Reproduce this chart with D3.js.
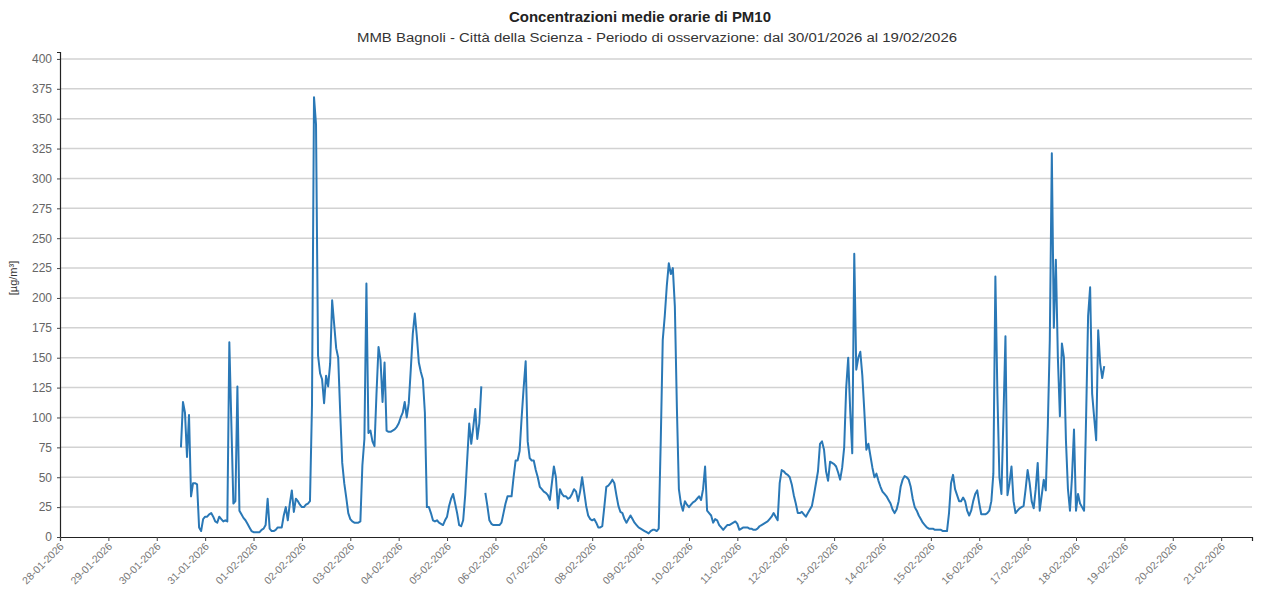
<!DOCTYPE html>
<html>
<head>
<meta charset="utf-8">
<script src="https://cdn.jsdelivr.net/npm/d3@7"></script>
<style>
  html, body { margin: 0; padding: 0; background: #fff; }
  svg { display: block; font-family: "Liberation Sans", Arial, sans-serif; }
</style>
</head>
<body>
<svg id="chart" width="1267" height="613"></svg>
<script>
// Hourly PM10 means, one array per day (00:00 .. 23:00), µg/m³
const pm10_30_01 = [null,null,null,null,null,null,null,null,null,null,null,null,75,113,104,67,102,34,45,45,44,8,5,15];
const pm10_31_01 = [17,17,19,20,17,13,12,17,15,13,14,13,163,95,28,30,126,22,19,16,14,11,8,5];
const pm10_01_02 = [4,4,4,4,6,7,10,32,7,5,5,6,8,8,8,18,25,14,28,39,21,32,30,27];
const pm10_02_02 = [25,25,27,28,30,110,368,345,152,137,132,112,135,126,145,198,178,158,150,104,62,45,33,20];
const pm10_03_02 = [15,13,12,12,12,13,60,82,212,87,89,80,76,120,159,148,113,146,89,88,88,89,90,92];
const pm10_04_02 = [95,100,104,113,100,112,140,170,187,168,146,138,132,104,25,25,20,14,13,14,12,11,10,14];
const pm10_05_02 = [17,26,32,36,28,20,10,9,14,35,65,95,78,92,107,82,95,126,null,37,26,14,11,10];
const pm10_06_02 = [10,10,10,12,20,28,34,34,34,50,64,64,72,100,125,147,80,66,64,64,56,50,42,40];
const pm10_07_02 = [38,37,35,31,45,59,50,24,40,36,34,34,32,33,36,40,38,30,38,50,38,26,18,15];
const pm10_08_02 = [14,15,12,8,8,9,25,42,43,45,48,45,35,26,21,20,15,12,15,18,15,12,10,8];
const pm10_09_02 = [7,6,5,4,3,5,6,6,5,7,80,165,185,210,229,220,225,193,109,40,28,22,30,27];
const pm10_10_02 = [25,27,29,30,32,34,31,40,59,22,20,18,12,15,14,10,8,6,8,10,10,11,12,13];
const pm10_11_02 = [11,6,7,8,8,8,7,7,6,6,7,9,10,11,12,13,15,17,20,17,14,45,56,55];
const pm10_12_02 = [53,52,50,44,35,28,20,20,21,19,17,20,23,26,35,45,55,78,80,73,55,47,63,62];
const pm10_13_02 = [61,59,54,48,58,75,125,150,105,70,237,140,150,155,135,105,73,78,68,58,50,53,47,42];
const pm10_14_02 = [38,36,34,31,28,23,20,23,30,42,48,51,50,48,42,32,25,22,18,15,12,10,8,7];
const pm10_15_02 = [7,7,6,6,6,6,5,5,5,20,45,52,40,35,30,30,33,30,22,18,22,30,36,39];
const pm10_16_02 = [28,19,19,19,20,22,30,53,218,120,50,36,100,168,35,45,59,30,20,22,24,25,26,40];
const pm10_17_02 = [56,45,30,24,40,62,22,35,48,39,92,165,321,175,232,150,101,162,150,81,40,22,50,90];
const pm10_18_02 = [22,36,28,25,22,100,185,209,120,100,81,173,145,133,143];

// Days in order, first day starts at 30-01-2026 00:00
const seriesDays = [pm10_30_01, pm10_31_01, pm10_01_02, pm10_02_02, pm10_03_02, pm10_04_02,
  pm10_05_02, pm10_06_02, pm10_07_02, pm10_08_02, pm10_09_02, pm10_10_02, pm10_11_02,
  pm10_12_02, pm10_13_02, pm10_14_02, pm10_15_02, pm10_16_02, pm10_17_02, pm10_18_02];

const xTickLabels = ["28-01-2026","29-01-2026","30-01-2026","31-01-2026","01-02-2026","02-02-2026",
  "03-02-2026","04-02-2026","05-02-2026","06-02-2026","07-02-2026","08-02-2026","09-02-2026",
  "10-02-2026","11-02-2026","12-02-2026","13-02-2026","14-02-2026","15-02-2026","16-02-2026",
  "17-02-2026","18-02-2026","19-02-2026","20-02-2026","21-02-2026"];
const yTicks = [0,25,50,75,100,125,150,175,200,225,250,275,300,325,350,375,400];

const titleText = "Concentrazioni medie orarie di PM10";
const subtitleText = "MMB Bagnoli - Città della Scienza - Periodo di osservazione: dal 30/01/2026 al 19/02/2026";
const yLabelText = "[µg/m³]";

// ---- build hourly records
const HOUR = 3600 * 1000;
const seriesStart = Date.UTC(2026, 0, 30);
const records = [];
seriesDays.forEach((day, di) => {
  day.forEach((v, hi) => {
    records.push({ t: new Date(seriesStart + (di * 24 + hi) * HOUR), v: v });
  });
});
const firstValid = records.findIndex(r => r.v != null);
const points = records.slice(firstValid);

const tickDates = xTickLabels.map(s => {
  const [dd, mm, yy] = s.split("-").map(Number);
  return new Date(Date.UTC(yy, mm - 1, dd));
});

// ---- layout
const plot = { left: 60, right: 1252, top: 52, bottom: 537 };
const svg = d3.select("#chart");
const FONT = "'Liberation Sans', Arial, sans-serif";

const x = d3.scaleUtc()
  .domain([tickDates[0], new Date(tickDates[0].getTime() + 591.3 * HOUR)])
  .range([plot.left, plot.right]);
const y = d3.scaleLinear()
  .domain([0, 405.8])
  .range([plot.bottom, plot.top]);

// gridlines
svg.append("g")
  .selectAll("line")
  .data(yTicks.filter(v => v > 0))
  .join("line")
  .attr("x1", plot.left).attr("x2", plot.right)
  .attr("y1", d => y(d)).attr("y2", d => y(d))
  .attr("stroke", "#d2d2d2")
  .attr("stroke-width", 1.5);

// series line
const line = d3.line()
  .defined(d => d.v != null)
  .x(d => x(d.t))
  .y(d => y(d.v));

svg.append("path")
  .datum(points)
  .attr("d", line)
  .attr("fill", "none")
  .attr("stroke", "#2a78b6")
  .attr("stroke-width", 2)
  .attr("stroke-linejoin", "round");

// y axis
const yAxis = svg.append("g")
  .attr("transform", `translate(${plot.left},0)`)
  .call(d3.axisLeft(y).tickValues(yTicks).tickSize(3).tickPadding(5));
yAxis.select(".domain").attr("stroke", "#222").attr("stroke-width", 1.2);
yAxis.selectAll(".tick line").attr("stroke", "#444");
yAxis.selectAll(".tick text")
  .attr("fill", "#666")
  .style("font-size", "12px")
  .style("font-family", FONT);

// x axis
const xAxis = svg.append("g")
  .attr("transform", `translate(0,${plot.bottom})`)
  .call(d3.axisBottom(x).tickValues(tickDates).tickSize(4).tickFormat((d, i) => xTickLabels[i]));
xAxis.select(".domain").attr("stroke", "#222").attr("stroke-width", 1.2);
xAxis.selectAll(".tick line").attr("stroke", "#444");
xAxis.selectAll(".tick text")
  .attr("fill", "#777")
  .style("font-size", "10.5px")
  .style("font-family", FONT)
  .attr("text-anchor", "end")
  .attr("dy", null)
  .attr("y", 0)
  .attr("transform", "translate(4,10) rotate(-45)");

// y axis label
svg.append("text")
  .attr("transform", `translate(17,278) rotate(-90)`)
  .attr("text-anchor", "middle")
  .attr("fill", "#333")
  .style("font-size", "11px")
  .text(yLabelText);

// titles
svg.append("text")
  .attr("x", 640).attr("y", 22)
  .attr("text-anchor", "middle")
  .attr("fill", "#222")
  .attr("textLength", 262)
  .attr("lengthAdjust", "spacingAndGlyphs")
  .style("font-size", "14.5px")
  .style("font-weight", "bold")
  .text(titleText);

svg.append("text")
  .attr("x", 657).attr("y", 42)
  .attr("text-anchor", "middle")
  .attr("fill", "#333")
  .attr("textLength", 600)
  .attr("lengthAdjust", "spacingAndGlyphs")
  .style("font-size", "12.5px")
  .text(subtitleText);
</script>
</body>
</html>
